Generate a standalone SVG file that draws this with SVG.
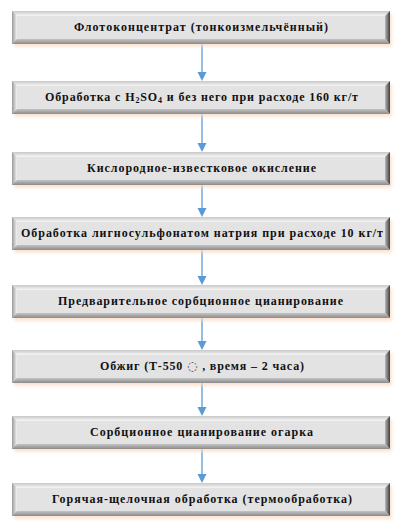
<svg xmlns="http://www.w3.org/2000/svg" xmlns:xlink="http://www.w3.org/1999/xlink" width="405" height="531" viewBox="0 0 405 531">
<style>
.t{font-family:"Liberation Serif","Times New Roman",serif;font-weight:bold;font-size:12px;fill:#111;text-anchor:middle}
.c{stroke:#5b9bd5;stroke-width:1.3;fill:none}
.h{fill:#5b9bd5}
</style>
<defs>
<filter id="sh" x="-5%" y="-30%" width="110%" height="160%"><feGaussianBlur stdDeviation="1.5"/></filter>
<linearGradient id="gl" x1="0" x2="1" y1="0" y2="0"><stop offset="0" stop-color="#9a9a9a"/><stop offset="1" stop-color="#f2f2f2"/></linearGradient>
<linearGradient id="gr" x1="0" x2="1" y1="0" y2="0"><stop offset="0" stop-color="#b8b8b8"/><stop offset="1" stop-color="#3e3e3e"/></linearGradient>
<linearGradient id="gt" x1="0" x2="0" y1="0" y2="1"><stop offset="0" stop-color="#c8c8c8"/><stop offset="1" stop-color="#f7f7f7"/></linearGradient>
<linearGradient id="gb" x1="0" x2="0" y1="0" y2="1"><stop offset="0" stop-color="#c4c4c4"/><stop offset="1" stop-color="#8a8a8a"/></linearGradient>
<g id="bx">
<rect x="14" y="3" width="378" height="33" fill="#fbd9c0" opacity="0.7" filter="url(#sh)"/>
<rect x="12" y="0" width="378" height="33" fill="#e2e2e2"/>
<polygon points="12,0 390,0 385,5 17,5" fill="url(#gt)"/>
<polygon points="12,0 17,5 17,28 12,33" fill="url(#gl)"/>
<polygon points="390,0 390,33 385,28 385,5" fill="url(#gr)"/>
<polygon points="12,33 17,28 385,28 390,33" fill="url(#gb)"/>
<rect x="17" y="5" width="368" height="23" fill="#e3e3e3"/>
</g>
</defs>
<g id="connectors">
<line class="c" x1="202" y1="44" x2="202" y2="73"/><polygon class="h" points="197.5,72 206.5,72 202,81"/>
<line class="c" x1="202" y1="114" x2="202" y2="144"/><polygon class="h" points="197.5,143 206.5,143 202,152"/>
<line class="c" x1="202" y1="185" x2="202" y2="209"/><polygon class="h" points="197.5,208 206.5,208 202,217"/>
<line class="c" x1="202" y1="250" x2="202" y2="277"/><polygon class="h" points="197.5,276 206.5,276 202,285"/>
<line class="c" x1="202" y1="318" x2="202" y2="342"/><polygon class="h" points="197.5,341 206.5,341 202,350"/>
<line class="c" x1="202" y1="383" x2="202" y2="408"/><polygon class="h" points="197.5,407 206.5,407 202,416"/>
<line class="c" x1="202" y1="449" x2="202" y2="475"/><polygon class="h" points="197.5,474 206.5,474 202,483"/>
</g>
<g id="n1"><use xlink:href="#bx" y="11"/><text class="t" x="201" y="31" textLength="254" lengthAdjust="spacing">Флотоконцентрат (тонкоизмельчённый)</text></g>
<g id="n2"><use xlink:href="#bx" y="81"/><text class="t" x="201.5" y="101" textLength="313" lengthAdjust="spacing">Обработка с H<tspan font-size="8" dy="2">2</tspan><tspan dy="-2">SO</tspan><tspan font-size="8" dy="2">4</tspan><tspan dy="-2"> и без него при расходе 160 кг/т</tspan></text></g>
<g id="n3"><use xlink:href="#bx" y="152"/><text class="t" x="201.5" y="172" textLength="229" lengthAdjust="spacing">Кислородное-известковое окисление</text></g>
<g id="n4"><use xlink:href="#bx" y="217"/><text class="t" x="202" y="237" textLength="362" lengthAdjust="spacing">Обработка лигносульфонатом натрия при расходе 10 кг/т</text></g>
<g id="n5"><use xlink:href="#bx" y="285"/><text class="t" x="200.5" y="305" textLength="285" lengthAdjust="spacing">Предварительное сорбционное цианирование</text></g>
<g id="n6"><use xlink:href="#bx" y="350"/><text class="t" x="202" y="370" textLength="204" lengthAdjust="spacing">Обжиг (Т-550 <tspan font-family="DejaVu Sans" font-weight="normal" fill="#444">◌</tspan> , время – 2 часа)</text></g>
<g id="n7"><use xlink:href="#bx" y="416"/><text class="t" x="201.5" y="436" textLength="223" lengthAdjust="spacing">Сорбционное цианирование огарка</text></g>
<g id="n8"><use xlink:href="#bx" y="483"/><text class="t" x="202" y="503" textLength="300" lengthAdjust="spacing">Горячая-щелочная обработка (термообработка)</text></g>
</svg>
